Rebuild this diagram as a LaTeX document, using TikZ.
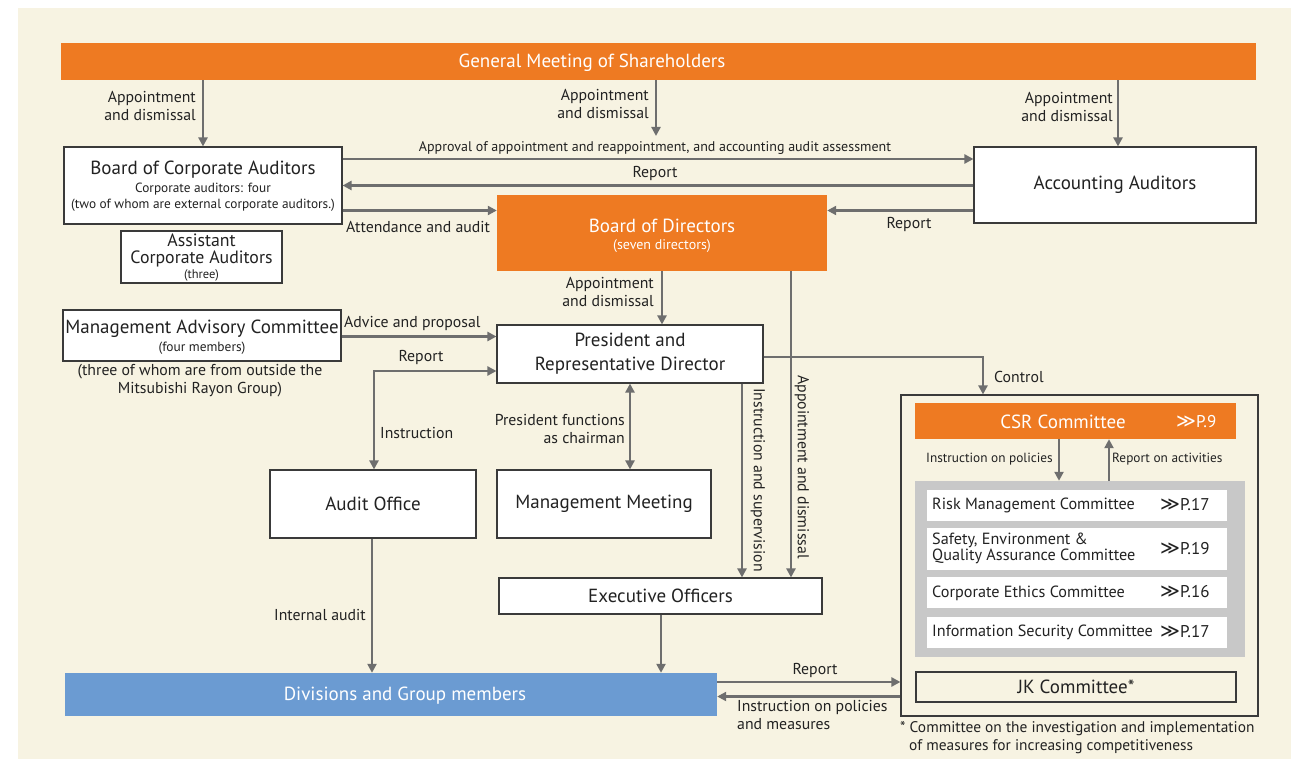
\documentclass[tikz,border=0pt]{standalone}
\usepackage{fontspec}
\setmainfont{PT Sans}
\newfontfamily\symf{DejaVu Sans}
\usetikzlibrary{arrows.meta}
\definecolor{bg}{HTML}{F7F3E2}
\definecolor{org}{HTML}{EE7A22}
\definecolor{blu}{HTML}{6B9BD2}
\definecolor{arrc}{HTML}{6E6E6E}
\definecolor{boxc}{HTML}{3A3A3A}
\definecolor{pan}{HTML}{C8C8C8}
\definecolor{txt}{HTML}{222222}
\newcommand{\fbig}{\fontsize{19}{22}\selectfont}
\newcommand{\flab}{\fontsize{15.8}{18}\selectfont}
\newcommand{\fsm}{\fontsize{13.4}{16}\selectfont}
\newcommand{\pref}[1]{{\symf\fontsize{19}{16}\selectfont ≫}#1}
\begin{document}
\begin{tikzpicture}[x=1pt,y=-1pt,
  box/.style={draw=boxc, line width=1.1pt, fill=white, inner sep=0pt, align=center, text=txt, font=\fbig},
  arr/.style={draw=arrc, line width=2.4pt, -{Triangle[length=9pt,width=9pt]}},
  dbl/.style={draw=arrc, line width=2.4pt, {Triangle[length=9pt,width=9pt]}-{Triangle[length=9pt,width=9pt]}},
  lbl/.style={font=\flab, text=txt, inner sep=0pt},
  slbl/.style={font=\fsm, text=txt, inner sep=0pt},
  rowt/.style={font=\fontsize{16.2}{16}\selectfont, text=txt, inner sep=0pt, anchor=west},
  rowp/.style={font=\fontsize{17}{16}\selectfont, text=txt, inner sep=0pt, anchor=west},
  wtxt/.style={text=white, inner sep=0pt}]
\useasboundingbox (0,0) rectangle (1291,759);
\fill[white] (0,0) rectangle (1291,759);
\fill[bg] (18,8) rectangle (1291,759);

% top bar
\node[fill=org, minimum width=1195pt, minimum height=37pt, inner sep=0pt] (gm) at (658.5,61.5) {};
\node[wtxt, font=\fbig] (gmt) at (592,63) {General Meeting of Shareholders};

% boxes
\node[box, minimum width=278pt, minimum height=77pt] (bca) at (203,185.5) {};
\node[inner sep=0pt, text=txt, font=\fbig] (bcat) at (203,170) {Board of Corporate Auditors};
\node[slbl, font=\fontsize{13.3}{16}\selectfont, align=center] (bcas) at (203,197) {Corporate auditors: four\\(two of whom are external corporate auditors.)};

\node[box, minimum width=161pt, minimum height=52pt] (aca) at (201.5,257) {};
\node[inner sep=0pt, text=txt, font=\fontsize{17.8}{15.5}\selectfont, anchor=base] (acat1) at (201.5,246.5) {Assistant};
\node[inner sep=0pt, text=txt, font=\fontsize{17.8}{15.5}\selectfont, anchor=base] (acat2) at (201.5,263.5) {Corporate Auditors};
\node[slbl, font=\fontsize{12.5}{14}\selectfont, anchor=base] (acas) at (201.5,279) {(three)};

\node[box, minimum width=282pt, minimum height=76pt] (acc) at (1115,185) {Accounting Auditors};

\node[fill=org, minimum width=330pt, minimum height=76pt, inner sep=0pt] (bod) at (662,233) {};
\node[wtxt, font=\fbig] (bodt) at (662,226) {Board of Directors};
\node[wtxt, font=\fontsize{14}{16}\selectfont] (bods) at (662,246) {(seven directors)};

\node[box, minimum width=278pt, minimum height=51pt] (mac) at (202,335.5) {};
\node[inner sep=0pt, text=txt, font=\fbig] (mact) at (202,329) {Management Advisory Committee};
\node[slbl] (macs) at (202,348) {(four members)};
\node[lbl, align=center] (macn) at (200,380.5) {(three of whom are from outside the\\Mitsubishi Rayon Group)};

\node[box, minimum width=266pt, minimum height=58pt, font=\fontsize{19}{24}\selectfont] (pres) at (630,354) {President and\\Representative Director};

\node[box, minimum width=206pt, minimum height=68pt] (audit) at (373,504) {Audit Office};
\node[box, minimum width=214pt, minimum height=68pt] (mm) at (604,504) {Management Meeting};
\node[box, minimum width=323pt, minimum height=36pt] (exec) at (660.5,596) {Executive Officers};

\node[fill=blu, minimum width=652pt, minimum height=43pt, inner sep=0pt] (div) at (391,694.5) {};
\node[wtxt, font=\fbig] (divt) at (405,696) {Divisions and Group members};

% right committee area
\node[draw=boxc, line width=1.1pt, minimum width=357pt, minimum height=321pt, inner sep=0pt] (outer) at (1079.5,555.5) {};
\node[fill=org, minimum width=321pt, minimum height=36pt, inner sep=0pt] (csr) at (1075.5,421) {};
\node[wtxt, font=\fbig] (csrt) at (1063,422) {CSR Committee};
\node[wtxt, font=\fontsize{17}{16}\selectfont, anchor=west] (csrp) at (1176,422) {\pref{P.9}};

\node[fill=pan, minimum width=330pt, minimum height=176pt, inner sep=0pt] (panel) at (1080,569) {};
\node[fill=white, minimum width=300pt, minimum height=31pt, inner sep=0pt] (r1) at (1077,505.5) {};
\node[fill=white, minimum width=300pt, minimum height=42pt, inner sep=0pt] (r2) at (1077,549) {};
\node[fill=white, minimum width=300pt, minimum height=31pt, inner sep=0pt] (r3) at (1077,592.5) {};
\node[fill=white, minimum width=300pt, minimum height=31pt, inner sep=0pt] (r4) at (1077,632.5) {};
\node[rowt] (r1t) at (932,505) {Risk Management Committee};
\node[rowt, align=left, font=\fontsize{16.2}{16}\selectfont] (r2t) at (932,548) {Safety, Environment \&\\Quality Assurance Committee};
\node[rowt] (r3t) at (932,593) {Corporate Ethics Committee};
\node[rowt] (r4t) at (932,632) {Information Security Committee};
\node[rowp] (r1p) at (1160,505) {\pref{P.17}};
\node[rowp] (r2p) at (1160,549) {\pref{P.19}};
\node[rowp] (r3p) at (1160,592) {\pref{P.16}};
\node[rowp] (r4p) at (1160,632) {\pref{P.17}};

\node[draw=boxc, line width=1.1pt, fill=bg, minimum width=320pt, minimum height=30pt, inner sep=0pt, text=txt, font=\fbig] (jk) at (1076,687) {JK Committee*};

% arrows from shareholders
\draw[arr] (gm.south -| 203,0) -- (bca.north -| 203,0);
\draw[arr] (gm.south -| 656,0) -- (656,136);
\draw[arr] (gm.south -| 1118,0) -- (acc.north -| 1118,0);
\node[lbl, anchor=east, align=right] (l1) at (196,106) {Appointment\\and dismissal};
\node[lbl, anchor=east, align=right] (l2) at (649,104) {Appointment\\and dismissal};
\node[lbl, anchor=east, align=right] (l3) at (1113,107) {Appointment\\and dismissal};

% auditors <-> accounting
\draw[arr] (bca.east |- 0,159) -- (acc.west |- 0,159);
\node[slbl, font=\fontsize{14}{15}\selectfont] (lap) at (655,148) {Approval of appointment and reappointment, and accounting audit assessment};
\draw[arr] (acc.west |- 0,185.5) -- (bca.east |- 0,185.5);
\node[lbl] (lrep1) at (655,173) {Report};
\draw[arr] (bca.east |- 0,210.5) -- (bod.west |- 0,210.5);
\node[lbl, anchor=west] (latt) at (346,227) {Attendance and audit};
\draw[arr] (acc.west |- 0,210.5) -- (bod.east |- 0,210.5);
\node[lbl] (lrep2) at (909,224) {Report};

% board to president / exec
\draw[arr] (bod.south -| 662,0) -- (pres.north -| 662,0);
\node[lbl, anchor=east, align=right] (l4) at (654,292) {Appointment\\and dismissal};
\draw[arr] (bod.south -| 791,0) -- (exec.north -| 791,0);
\node[lbl, rotate=-90] (l5) at (802,467) {Appointment and dismissal};
\draw[arr] (pres.south -| 742,0) -- (exec.north -| 742,0);
\node[lbl, rotate=-90] (l6) at (758,480) {Instruction and supervision};

% advisory
\draw[arr] (mac.east |- 0,336.5) -- (pres.west |- 0,336.5);
\node[lbl, anchor=west] (ladv) at (344,323) {Advice and proposal};
\draw[dbl] (pres.west |- 0,371) -| (audit.north -| 374,0);
\node[lbl] (lrep3) at (421,357) {Report};
\node[lbl, anchor=west] (lins) at (380,433) {Instruction};

% chairman
\draw[dbl] (pres.south -| 630,0) -- (mm.north -| 630,0);
\node[lbl, anchor=east, align=right] (lch) at (625,429.5) {President functions\\as chairman};

% to divisions
\draw[arr] (audit.south -| 372,0) -- (div.north -| 372,0);
\node[lbl, anchor=east] (lia) at (366,615) {Internal audit};
\draw[arr] (exec.south -| 661,0) -- (div.north -| 661,0);

% control
\draw[arr] (pres.east |- 0,357) -| (outer.north -| 983,0);
\node[lbl, anchor=west] (lctl) at (994,377) {Control};

% CSR arrows
\draw[arr] (csr.south -| 1059,0) -- (panel.north -| 1059,0);
\draw[arr] (panel.north -| 1109,0) -- (csr.south -| 1109,0);
\node[slbl, font=\fontsize{13.3}{15}\selectfont, anchor=east] (lip) at (1053,459) {Instruction on policies};
\node[slbl, font=\fontsize{13.3}{15}\selectfont, anchor=west] (lra) at (1112,459) {Report on activities};

% divisions <-> committees
\draw[arr] (div.east |- 0,682) -- (outer.west |- 0,682);
\node[lbl] (lrep4) at (815,670) {Report};
\draw[arr] (outer.west |- 0,696.5) -- (div.east |- 0,696.5);
\node[lbl, anchor=west, align=left] (lipm) at (737,714.5) {Instruction on policies\\and measures};

% footnote
\node[lbl, font=\fontsize{15.4}{18}\selectfont, anchor=west, align=left] (fn) at (900,738) {* Committee on the investigation and implementation\\\hspace*{9pt}of measures for increasing competitiveness};
\end{tikzpicture}
\end{document}
